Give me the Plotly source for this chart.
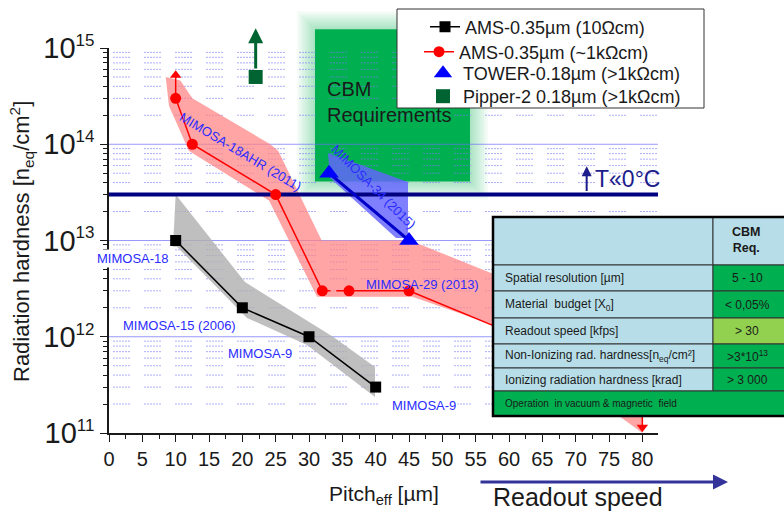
import numpy as np
import plotly.graph_objects as go

# ---------------- data ----------------
ams10_pitch = [10, 20, 30, 40]
ams10_hard = [1e13, 2e12, 1e12, 3e11]

ams1k_pitch = [10, 12.5, 25, 32, 36, 45, 80]
ams1k_hard = [3e14, 1e14, 3e13, 3e12, 3e12, 3e12, 3e11]

tower_pitch = [33, 45]
tower_hard = [5e13, 1e13]

pipper_pitch = [22]
pipper_hard = [5e14]

# uncertainty bands (outline of shaded areas)
ams10_band_x = [10, 20.4, 33.6, 39.9, 39.9, 29.7, 20.7, 10.2, 9.6, 10]
ams10_band_y = [3e13, 3.7e12, 1e12, 4.85e11, 2.37e11, 8.2e11, 1.57e12, 8.6e12, 8.6e12, 3e13]

ams1k_band_x = [8.5, 10.7, 12.5, 24.2, 25.4, 31.9, 45.2, 58.7, 80, 80, 58, 45.5, 31.2, 24, 12, 9, 8.5]
ams1k_band_y = [5e14, 4.6e14, 3e14, 1e14, 8.5e13, 1e13, 1e13, 4.2e12, 1.1e12, 1e11,
                1.3e12, 2.6e12, 2.6e12, 2.6e13, 8.5e13, 2.5e14, 5e14]

tower_band_x = [32.85, 44.85, 44.85, 43.05, 33.15, 32.85]
tower_band_y = [8.1e13, 4.05e13, 1.06e13, 1.06e13, 4.46e13, 8.1e13]

# arrows (limits)
red_up_x = [10, 10]
red_up_y = [3e14, 5.2e14]
red_down_x = [80, 80]
red_down_y = [3e11, 1.15e11]
pipper_arrow_top = 1.6e15

# requirement region and temperature line
cbm_x = [30.9, 54.15]
cbm_y = [4.1e13, 1.57e15]
temp_line = 3e13
temp_arrow_x = 71.65
temp_arrow_y = [3e13, 5.9e13]

# labels
labels = ["MIMOSA-18", "MIMOSA-15 (2006)", "MIMOSA-9", "MIMOSA-9", "MIMOSA-29 (2013)",
          "MIMOSA-18AHR (2011)", "MIMOSA-34 (2015)"]
label_x = [3.6, 10.57, 22.65, 47.3, 46.95, 19.65, 39.6]
label_y = [6.43e12, 1.32e12, 6.73e11, 1.91e11, 3.5e12, 8.4e13, 3.6e13]
label_angle = [0, 0, 0, 0, 0, 31, 45]
label_bg = [True, True, True, True, False, False, False]

ytick_vals = [1e11, 1e12, 1e13, 1e14, 1e15]
ytick_exp = ["11", "12", "13", "14", "15"]

table_rows = ["Spatial resolution [µm]", "Material  budget [X<sub>0</sub>]", "Readout speed [kfps]",
              "Non-Ionizing rad. hardness[n<sub>eq</sub>/cm²]", "Ionizing radiation hardness [krad]"]
table_vals = ["5 - 10", "< 0,05%", "> 30", ">3*10<sup>13</sup>", "> 3 000"]
table_val_colors = ["#00B050", "#00B050", "#92D050", "#00B050", "#00B050"]
table_footer = "Operation  in vacuum & magnetic  field"

# ---------------- geometry ----------------
W, H = 784, 512
L, R, T, B = 109, 126, 48, 79
PW, PH = W - L - R, H - T - B
XMAX = 82.35


def pp(px, py):
    return (px - L) / PW, (H - B - py) / PH


def xd(x):
    return x / XMAX


def yd(y):
    return (np.log10(y) - 11) / 4


FONT = "Liberation Sans, Arial, sans-serif"
TXT = "#1a1a1a"
fig = go.Figure()

# grid lines
gx, gy = [], []
for v in [1e12, 1e13, 1e14]:
    gx += [0, XMAX, None]
    gy += [v, v, None]
fig.add_trace(go.Scatter(x=gx, y=gy, mode="lines", line=dict(color="rgba(110,110,250,0.7)", width=1),
                         hoverinfo="skip", showlegend=False))
mx, my = [], []
minor_vals = []
for d in range(11, 15):
    for m in range(2, 10):
        v = m * 10.0 ** d
        minor_vals.append(v)
        mx += [0.6, XMAX, None]
        my += [v, v, None]
fig.add_trace(go.Scatter(x=mx, y=my, mode="lines",
                         line=dict(color="rgba(120,120,245,0.6)", width=1,
                                   dash="2px,1px,2px,1px,2px,1px,2px,1px,2px,1px,2px,14px"),
                         hoverinfo="skip", showlegend=False))

# bands
fig.add_trace(go.Scatter(x=ams10_band_x, y=ams10_band_y, fill="toself", mode="lines",
                         line=dict(width=0), fillcolor="rgba(175,175,175,0.8)", hoverinfo="skip", showlegend=False))
fig.add_trace(go.Scatter(x=ams1k_band_x, y=ams1k_band_y, fill="toself", mode="lines",
                         line=dict(width=0), fillcolor="rgba(255,130,130,0.72)", hoverinfo="skip", showlegend=False))
fig.add_trace(go.Scatter(x=tower_band_x, y=tower_band_y, fill="toself", mode="lines",
                         line=dict(width=0), fillcolor="rgba(100,100,255,0.82)", hoverinfo="skip", showlegend=False))

# temperature line
fig.add_trace(go.Scatter(x=[0, XMAX], y=[temp_line, temp_line], mode="lines",
                         line=dict(color="#000080", width=4), hoverinfo="skip", showlegend=False))

# arrows as traces
fig.add_trace(go.Scatter(x=red_up_x, y=red_up_y, mode="lines", line=dict(color="red", width=1.5),
                         showlegend=False, hoverinfo="skip"))
fig.add_trace(go.Scatter(x=red_up_x[1:], y=red_up_y[1:], mode="markers", cliponaxis=False,
                         marker=dict(symbol="triangle-up", size=10, color="red"), showlegend=False, hoverinfo="skip"))
fig.add_trace(go.Scatter(x=red_down_x, y=red_down_y, mode="lines", line=dict(color="red", width=1.5),
                         showlegend=False, hoverinfo="skip"))
fig.add_trace(go.Scatter(x=red_down_x[1:], y=red_down_y[1:], mode="markers", cliponaxis=False,
                         marker=dict(symbol="triangle-down", size=10, color="red"), showlegend=False, hoverinfo="skip"))

# series
fig.add_trace(go.Scatter(x=ams10_pitch, y=ams10_hard, mode="lines+markers", name="AMS-0.35µm (10Ωcm)",
                         legend="legend",
                         line=dict(color="black", width=1.5), marker=dict(symbol="square", size=11, color="black")))
rx = ams1k_pitch[:4] + [None] + ams1k_pitch[4:]
ry = ams1k_hard[:4] + [None] + ams1k_hard[4:]
fig.add_trace(go.Scatter(x=rx, y=ry, mode="lines+markers", name="AMS-0.35µm (~1kΩcm)", connectgaps=False,
                         legend="legend2",
                         line=dict(color="red", width=1.5), marker=dict(symbol="circle", size=11, color="red")))
fig.add_trace(go.Scatter(x=ams1k_pitch[3:5], y=ams1k_hard[3:5], mode="lines", showlegend=False,
                         line=dict(color="red", width=1.5, dash="8px,6px"), hoverinfo="skip"))
fig.add_trace(go.Scatter(x=tower_pitch, y=tower_hard, mode="lines", showlegend=False,
                         line=dict(color="#0000c8", width=3), hoverinfo="skip"))
fig.add_trace(go.Scatter(x=tower_pitch, y=tower_hard, mode="markers", name="TOWER-0.18µm (>1kΩcm)",
                         legend="legend3",
                         marker=dict(symbol="triangle-up", size=17, color="#0000ff")))
fig.add_trace(go.Scatter(x=pipper_pitch, y=pipper_hard, mode="markers", name="Pipper-2 0.18µm (>1kΩcm)",
                         legend="legend4",
                         marker=dict(symbol="square", size=14, color="#006432")))

shapes = []
# CBM requirement box with soft glow
x0, x1 = xd(cbm_x[0]), xd(cbm_x[1])
y0, y1 = yd(cbm_y[0]), yd(cbm_y[1])
for d in [18, 16, 14, 12, 10, 8, 6, 4, 2]:
    shapes.append(dict(type="rect", xref="paper", yref="paper", layer="below",
                       x0=x0 - d / PW, x1=x1 + d / PW, y0=y0 - d / PH, y1=y1 + d / PH,
                       line=dict(width=0), fillcolor="rgba(0,176,80,0.04)"))
shapes.append(dict(type="rect", xref="paper", yref="paper", layer="below",
                   x0=x0, x1=x1, y0=y0, y1=y1, line=dict(width=0), fillcolor="#00B050"))

# table
rows_y = [217, 265, 291, 318, 344, 368, 391, 416]
tl, ts, tr = 493, 713, 792
cell_line = dict(color="#333333", width=1)


def rect(px0, py0, px1, py1, fill, line):
    a = pp(px0, py1)
    b = pp(px1, py0)
    return dict(type="rect", xref="paper", yref="paper", layer="above",
                x0=a[0], y0=a[1], x1=b[0], y1=b[1], fillcolor=fill, line=line)


shapes.append(rect(tl, rows_y[0], ts, rows_y[1], "#B7DEE8", cell_line))
shapes.append(rect(ts, rows_y[0], tr, rows_y[1], "#B7DEE8", cell_line))
for i in range(5):
    shapes.append(rect(tl, rows_y[i + 1], ts, rows_y[i + 2], "#B7DEE8", cell_line))
    shapes.append(rect(ts, rows_y[i + 1], tr, rows_y[i + 2], table_val_colors[i], cell_line))
shapes.append(rect(tl, rows_y[6], tr, rows_y[7], "#00B050", cell_line))
shapes.append(rect(tl, rows_y[0], tr, rows_y[7], "rgba(0,0,0,0)", dict(color="black", width=2.5)))

# legend box
shapes.append(rect(397, 9, 704, 108, "white", dict(color="#333333", width=1)))

ann = []


def pa(px, py, text, size, xanchor="center", yanchor="middle", color=TXT, **kw):
    x, y = pp(px, py)
    d = dict(x=x, y=y, xref="paper", yref="paper", text=text, showarrow=False,
             xanchor=xanchor, yanchor=yanchor, font=dict(size=size, color=color, family=FONT))
    d.update(kw)
    return d


# labels
for t, x, y, a, bg in zip(labels, label_x, label_y, label_angle, label_bg):
    ann.append(dict(x=x, y=np.log10(y), xref="x", yref="y", text=t, showarrow=False, textangle=a,
                    xanchor="center", yanchor="middle",
                    font=dict(size=13, color="#2b2bff", family=FONT),
                    bgcolor="white" if bg else "rgba(0,0,0,0)", borderpad=1))
ann.append(dict(x=32.4, y=np.log10(2.75e14), xref="x", yref="y", text="CBM<br>Requirements",
                showarrow=False, xanchor="left", yanchor="middle", align="left",
                font=dict(size=20, color=TXT, family=FONT)))
# pipper arrow
ann.append(dict(x=pipper_pitch[0], y=np.log10(pipper_arrow_top), ax=pipper_pitch[0], ay=np.log10(pipper_hard[0]),
                xref="x", yref="y", axref="x", ayref="y", text="", showarrow=True, arrowhead=2, arrowsize=1,
                arrowwidth=3, arrowcolor="#006432", startstandoff=7))
# temperature arrow + text
ann.append(dict(x=temp_arrow_x, y=np.log10(temp_arrow_y[1]), ax=temp_arrow_x, ay=np.log10(temp_arrow_y[0]),
                xref="x", yref="y", axref="x", ayref="y", text="", showarrow=True, arrowhead=2, arrowsize=1,
                arrowwidth=2, arrowcolor="#1c1c8c", startstandoff=2))
ann.append(dict(x=72.6, y=np.log10(4.35e13), xref="x", yref="y", text="T«0°C", showarrow=False,
                xanchor="left", yanchor="middle", font=dict(size=23, color="#1c1c8c", family=FONT)))
# axis titles
ann.append(pa(22, 242, "Radiation hardness [n<sub>eq</sub>/cm<sup>2</sup>]", 22, textangle=-90))
ann.append(pa(384, 495, "Pitch<sub>eff</sub> [µm]", 21))
# readout speed arrow
px_, py_ = pp(728, 482)
ann.append(dict(x=px_, y=py_, xref="paper", yref="paper", ax=-249, ay=0, text="", showarrow=True,
                arrowhead=2, arrowsize=1, arrowwidth=3, arrowcolor="#333399"))
ann.append(pa(491, 497, "Readout speed", 25, xanchor="left"))
# table text
ann.append(pa(746, 240, "<b>CBM<br>Req.</b>", 12.5))
for i in range(5):
    cy = (rows_y[i + 1] + rows_y[i + 2]) / 2
    ann.append(pa(503, cy, table_rows[i], 12, xanchor="left"))
    ann.append(pa(747, cy, table_vals[i], 12))
ann.append(pa(503, (rows_y[6] + rows_y[7]) / 2, table_footer, 10, xanchor="left"))

# legend entries (one legend per entry, placed in figure-container coordinates)
legend_rows_y = [27, 52, 73.5, 96.5]
legend_text_x = [463, 457, 461, 461]
legends = {}
for i, (lyp, ltx) in enumerate(zip(legend_rows_y, legend_text_x)):
    key = "legend" if i == 0 else "legend%d" % (i + 1)
    legends[key] = dict(x=(ltx - 38) / W, y=1 - lyp / H, xref="container", yref="container",
                        xanchor="left", yanchor="middle", bgcolor="rgba(0,0,0,0)",
                        borderwidth=0, font=dict(size=18, color=TXT, family=FONT))

fig.update_layout(
    width=W, height=H, margin=dict(l=L, r=R, t=T, b=B, autoexpand=False),
    paper_bgcolor="white", plot_bgcolor="rgba(0,0,0,0)",
    font=dict(family=FONT, color=TXT),
    shapes=shapes, annotations=ann, showlegend=True,
    **legends,
)
fig.update_xaxes(range=[0, XMAX], tickmode="linear", tick0=0, dtick=5, ticks="outside", ticklen=7,
                 tickwidth=1.3, tickcolor=TXT, showline=True, linecolor=TXT, linewidth=1.5,
                 showgrid=False, zeroline=False, tickfont=dict(size=20, color=TXT),
                 minor=dict(tick0=0, dtick=2.5, ticks="outside", ticklen=4, tickcolor=TXT, showgrid=False))
fig.update_yaxes(type="log", range=[11, 15], tickmode="array", tickvals=ytick_vals,
                 ticktext=["10<sup><span style='font-size:17px'>" + e + "</span></sup>" for e in ytick_exp],
                 ticks="outside", ticklen=7, tickwidth=1.3, tickcolor=TXT, showline=True,
                 linecolor=TXT, linewidth=1.5, showgrid=False, zeroline=False,
                 tickfont=dict(size=29, color=TXT),
                 minor=dict(tickmode="array", tickvals=minor_vals, ticks="outside", ticklen=4,
                            tickcolor=TXT, showgrid=False))

fig.write_html("out.html")
